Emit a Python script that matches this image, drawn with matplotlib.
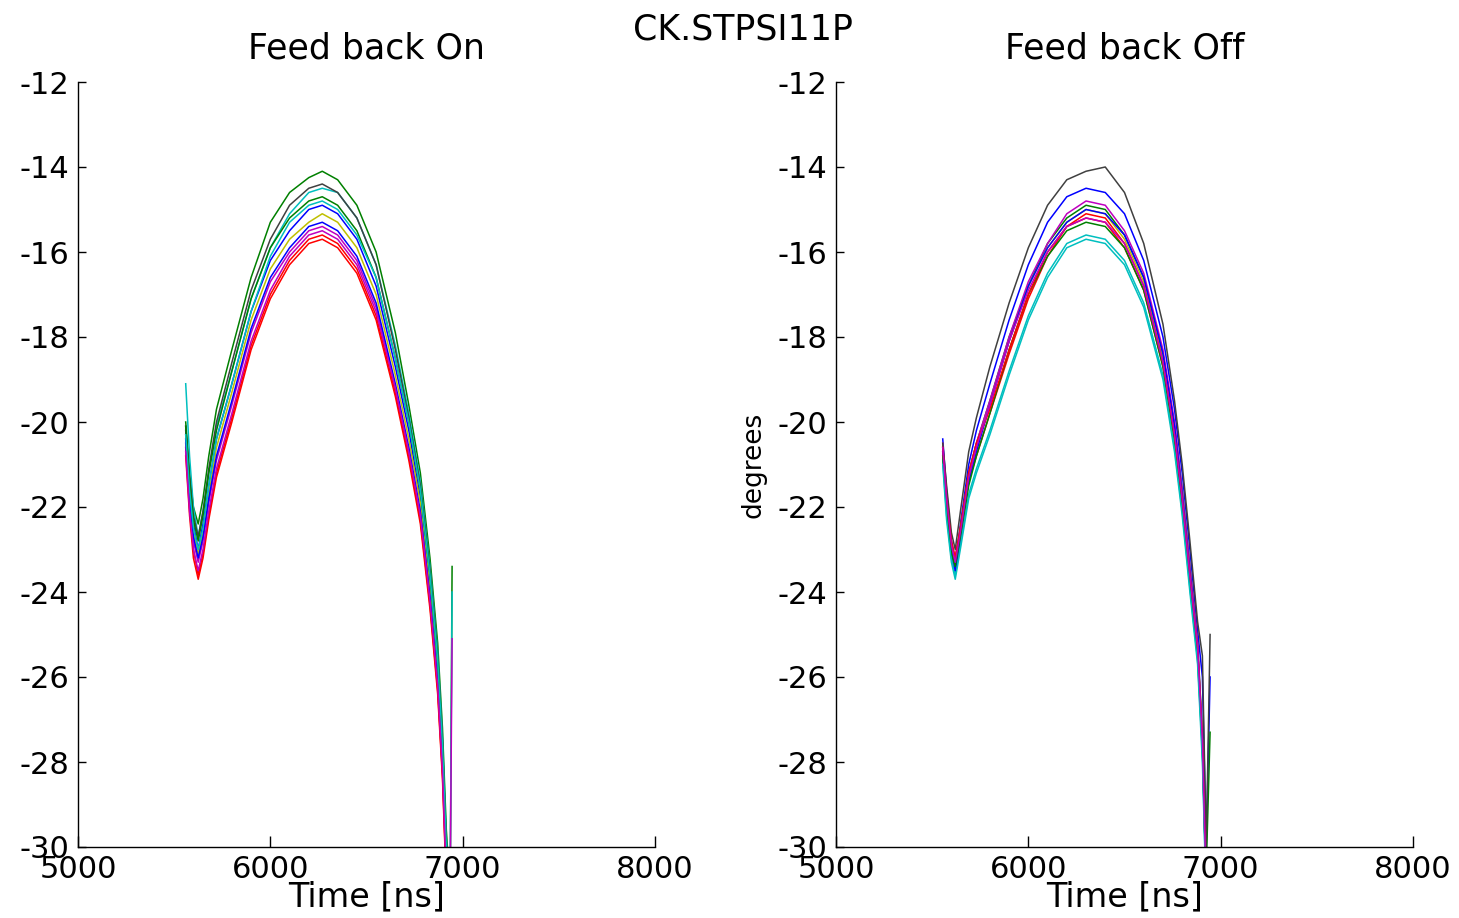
import matplotlib
matplotlib.use("Agg")
import matplotlib.pyplot as plt

# MATLAB default colour order (b, g, r, c, m, y, k)
COLORS = ["#0000ff", "#008000", "#ff0000", "#00bfbf", "#bf00bf", "#bfbf00", "#404040"]

SUPTITLE = "CK.STPSI11P"
TITLES = ["Feed back On", "Feed back Off"]
X_TICKS = [5000, 6000, 7000, 8000]
Y_TICKS = [-30, -28, -26, -24, -22, -20, -18, -16, -14, -12]

# ── Feed back On: sample times [ns] and phase traces [deg] ─────────────────
T_ON = [5560, 5580, 5600, 5625, 5650, 5680, 5720, 5800, 5900, 6000, 6100, 6200, 6270,
        6350, 6450, 6550, 6650, 6720, 6780, 6830, 6870, 6895, 6915, 6935, 6945]

TRACES_ON = [
    [-20.2, -21.5, -22.4, -23.0, -22.4, -21.5, -20.4, -19.1, -17.4, -16.2, -15.5, -15.0, -14.9,
     -15.1, -15.7, -16.8, -18.7, -20.2, -21.8, -23.8, -25.8, -27.8, -30.2, -31.5, -31.5],
    [-20.0, -21.2, -22.0, -22.4, -21.8, -20.8, -19.7, -18.3, -16.6, -15.3, -14.6, -14.25, -14.1,
     -14.3, -14.9, -16.0, -17.9, -19.6, -21.2, -23.2, -25.2, -27.2, -29.6, -31.0, -23.4],
    [-20.6, -22.0, -23.0, -23.6, -23.1, -22.2, -21.2, -19.9, -18.2, -17.0, -16.2, -15.7, -15.6,
     -15.8, -16.4, -17.5, -19.3, -20.8, -22.3, -24.3, -26.3, -28.3, -30.8, -31.5, -31.5],
    [-19.1, -20.8, -22.0, -22.7, -22.1, -21.2, -20.1, -18.8, -17.1, -15.9, -15.1, -14.6, -14.5,
     -14.6, -15.2, -16.3, -18.2, -19.8, -21.4, -23.4, -25.4, -27.4, -29.8, -31.0, -24.0],
    [-20.5, -21.9, -22.8, -23.3, -22.8, -21.9, -20.9, -19.6, -17.9, -16.7, -16.0, -15.5, -15.4,
     -15.6, -16.2, -17.3, -19.2, -20.7, -22.2, -24.2, -26.2, -28.2, -30.0, -31.0, -25.1],
    [-20.3, -21.6, -22.6, -23.1, -22.6, -21.7, -20.6, -19.3, -17.6, -16.4, -15.7, -15.3, -15.1,
     -15.3, -15.9, -17.0, -18.9, -20.4, -21.9, -23.9, -25.9, -27.9, -30.3, -31.5, -31.5],
    [-20.1, -21.3, -22.2, -22.7, -22.1, -21.1, -20.0, -18.6, -16.9, -15.7, -14.9, -14.5, -14.4,
     -14.6, -15.2, -16.3, -18.3, -19.9, -21.5, -23.5, -25.5, -27.5, -29.9, -31.5, -31.5],
    [-20.4, -21.8, -22.7, -23.2, -22.7, -21.8, -20.8, -19.5, -17.8, -16.6, -15.9, -15.4, -15.3,
     -15.5, -16.1, -17.2, -19.1, -20.6, -22.1, -24.1, -26.1, -28.1, -30.6, -31.5, -31.5],
    [-20.1, -21.4, -22.3, -22.8, -22.2, -21.2, -20.2, -18.8, -17.1, -15.9, -15.2, -14.8, -14.7,
     -14.9, -15.5, -16.6, -18.5, -20.0, -21.6, -23.6, -25.6, -27.6, -30.0, -31.5, -31.5],
    [-20.8, -22.2, -23.2, -23.7, -23.2, -22.3, -21.3, -20.0, -18.3, -17.1, -16.3, -15.8, -15.7,
     -15.9, -16.5, -17.6, -19.4, -20.9, -22.4, -24.4, -26.4, -28.4, -30.9, -31.5, -31.5],
    [-20.3, -21.6, -22.5, -23.0, -22.5, -21.5, -20.4, -19.1, -17.4, -16.1, -15.3, -14.9, -14.8,
     -15.0, -15.6, -16.6, -18.5, -20.0, -21.6, -23.6, -25.6, -27.6, -30.0, -31.5, -31.5],
    [-20.7, -22.1, -23.0, -23.5, -23.0, -22.1, -21.1, -19.8, -18.1, -16.9, -16.1, -15.6, -15.5,
     -15.7, -16.3, -17.4, -19.2, -20.7, -22.2, -24.2, -26.2, -28.2, -30.7, -31.5, -31.5],
]

# ── Feed back Off ───────────────────────────────────────────────────────────
T_OFF = [5555, 5575, 5600, 5620, 5650, 5690, 5730, 5800, 5900, 6000, 6100, 6200,
         6300, 6400, 6500, 6600, 6700, 6760, 6800, 6840, 6880, 6905, 6925, 6945]

TRACES_OFF = [
    [-20.4, -21.6, -22.8, -23.4, -22.3, -21.0, -20.2, -19.1, -17.6, -16.3, -15.3, -14.7,
     -14.5, -14.6, -15.1, -16.2, -18.0, -19.7, -21.2, -23.0, -24.9, -26.0, -30.0, -26.0],
    [-20.6, -21.9, -23.0, -23.3, -22.4, -21.2, -20.5, -19.5, -18.0, -16.8, -15.8, -15.2,
     -14.9, -15.0, -15.6, -16.6, -18.4, -20.1, -21.6, -23.4, -25.2, -27.3, -30.5, -27.3],
    [-20.7, -21.9, -22.9, -23.2, -22.5, -21.4, -20.8, -19.8, -18.4, -17.1, -16.1, -15.4,
     -15.2, -15.3, -15.9, -16.9, -18.7, -20.4, -21.9, -23.7, -25.4, -27.6, -31.0, -31.5],
    [-20.9, -22.2, -23.2, -23.6, -22.8, -21.7, -21.1, -20.2, -18.8, -17.5, -16.5, -15.8,
     -15.6, -15.7, -16.2, -17.2, -18.9, -20.6, -22.1, -23.9, -25.6, -27.8, -31.2, -31.5],
    [-20.5, -21.7, -22.8, -23.2, -22.4, -21.2, -20.5, -19.5, -18.0, -16.7, -15.8, -15.1,
     -14.8, -14.9, -15.5, -16.5, -18.3, -20.0, -21.6, -23.4, -25.2, -27.4, -30.8, -31.5],
    [-20.6, -21.8, -22.9, -23.3, -22.5, -21.3, -20.6, -19.6, -18.1, -16.8, -15.9, -15.3,
     -15.0, -15.1, -15.7, -16.7, -18.5, -20.2, -21.7, -23.5, -25.3, -27.5, -30.9, -31.5],
    [-20.5, -21.5, -22.6, -23.0, -22.0, -20.7, -19.9, -18.7, -17.2, -15.9, -14.9, -14.3,
     -14.1, -14.0, -14.6, -15.8, -17.7, -19.5, -21.0, -22.8, -24.7, -25.5, -30.0, -25.0],
    [-20.7, -21.9, -23.0, -23.5, -22.6, -21.4, -20.7, -19.6, -18.1, -16.8, -15.9, -15.3,
     -15.0, -15.1, -15.6, -16.6, -18.4, -20.1, -21.7, -23.5, -25.3, -27.6, -31.0, -31.5],
    [-20.8, -22.0, -23.1, -23.4, -22.6, -21.5, -20.8, -19.8, -18.3, -17.0, -16.1, -15.5,
     -15.3, -15.4, -15.9, -16.9, -18.7, -20.4, -21.9, -23.7, -25.5, -27.7, -31.0, -31.5],
    [-20.6, -21.8, -22.8, -23.2, -22.4, -21.2, -20.5, -19.7, -18.3, -17.0, -16.0, -15.4,
     -15.1, -15.2, -15.8, -16.8, -18.6, -20.3, -21.8, -23.6, -25.3, -27.5, -31.0, -31.5],
    [-21.0, -22.3, -23.3, -23.7, -22.9, -21.8, -21.2, -20.3, -18.9, -17.6, -16.6, -15.9,
     -15.7, -15.8, -16.3, -17.3, -19.0, -20.7, -22.2, -24.0, -25.7, -28.0, -31.3, -31.5],
    [-20.6, -21.8, -22.9, -23.3, -22.5, -21.3, -20.6, -19.6, -18.1, -16.9, -16.0, -15.4,
     -15.2, -15.3, -15.8, -16.8, -18.6, -20.3, -21.8, -23.6, -25.3, -27.5, -31.0, -31.5],
]

plt.rcParams["font.family"] = ["DejaVu Sans"]
plt.rcParams["axes.unicode_minus"] = False  # plain hyphen like the original

W, H = 1459, 918
fig = plt.figure(figsize=(W / 100, H / 100), dpi=100)

# axes boxes in pixels: (left, right), shared bottom/top
BOX_X = [(78, 655), (836, 1413)]
BOT, TOP = 847, 82

panels = [(T_ON, TRACES_ON), (T_OFF, TRACES_OFF)]
for k, ((x0, x1), (times, traces)) in enumerate(zip(BOX_X, panels)):
    ax = fig.add_axes([x0 / W, 1 - BOT / H, (x1 - x0) / W, (BOT - TOP) / H])
    for i, tr in enumerate(traces):
        ax.plot(times, tr, color=COLORS[i % len(COLORS)], linewidth=1.1)
    ax.set_xlim(5000, 8000)
    ax.set_ylim(-30, -12)
    ax.set_xticks(X_TICKS)
    ax.set_yticks(Y_TICKS)
    for side in ["top", "right"]:
        ax.spines[side].set_visible(False)
    for side in ["left", "bottom"]:
        ax.spines[side].set_linewidth(1.0)
    ax.tick_params(axis="both", direction="in", labelsize=22, width=1.0)
    ax.tick_params(axis="x", length=8, pad=6)
    ax.tick_params(axis="y", length=6, pad=6)
    ax.set_title(TITLES[k], fontsize=25, pad=17)
    ax.set_xlabel("Time [ns]", fontsize=24, labelpad=-3)
    if k == 1:
        ax.set_ylabel("degrees", fontsize=19, labelpad=8)

fig.suptitle(SUPTITLE, x=743 / W, y=1 - 40 / H, va="baseline", fontsize=25)

fig.savefig("out.png", dpi=100)
